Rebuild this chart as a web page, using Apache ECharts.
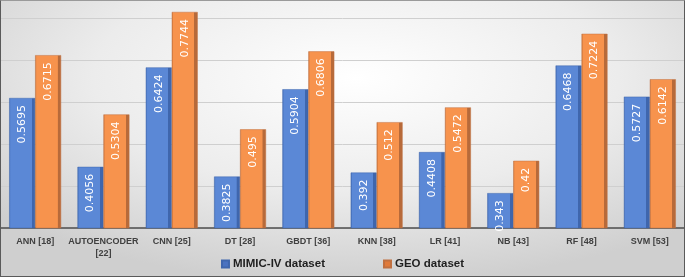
<!DOCTYPE html>
<html>
<head>
<meta charset="utf-8">
<script src="https://cdn.jsdelivr.net/npm/echarts@6/dist/echarts.min.js"></script>
<style>
  html, body { margin: 0; padding: 0; }
  #frame {
    width: 685px; height: 277px; box-sizing: border-box; overflow: hidden;
    border: 1px solid #5a5a5a; border-top-color: #9a9a9a;
    background: radial-gradient(ellipse 70% 75% at 52% 28%, #ffffff 0%, #ececec 55%, #cfcfcf 100%);
  }
  /* chart is taller and pulled up so the 0.86 line sits off screen */
  #main { width: 683px; height: 300px; margin-top: -25px; }
</style>
</head>
<body>
<div id="frame"><div id="main"></div></div>
<script>
var categories = ['ANN [18]', 'AUTOENCODER\n[22]', 'CNN [25]', 'DT [28]', 'GBDT [36]',
  'KNN [38]', 'LR [41]', 'NB [43]', 'RF [48]', 'SVM [53]'];
var mimicValues = [0.5695, 0.4056, 0.6424, 0.3825, 0.5904, 0.392, 0.4408, 0.343, 0.6468, 0.5727];
var geoValues = [0.6715, 0.5304, 0.7744, 0.495, 0.6806, 0.512, 0.5472, 0.42, 0.7224, 0.6142];

var chart = echarts.init(document.getElementById('main'));

function barFill(edge, face, side) {
  return new echarts.graphic.LinearGradient(0, 0, 1, 0, [
    { offset: 0, color: edge },
    { offset: 0.06, color: face },
    { offset: 0.86, color: face },
    { offset: 0.87, color: side },
    { offset: 1, color: side }
  ]);
}

var valueLabel = {
  show: true,
  position: 'insideTop',
  rotate: 90,
  align: 'right',
  verticalAlign: 'middle',
  distance: 5,
  offset: [-2, 0],
  color: '#ffffff',
  fontSize: 11,
  fontFamily: 'DejaVu Sans',
  formatter: function (p) { return p.value; }
};

var option = {
  backgroundColor: 'transparent',
  animation: false,
  textStyle: { fontFamily: 'Liberation Sans' },
  grid: { left: 0, right: 0, top: 0, bottom: 48 },
  legend: {
    bottom: 1,
    left: 'center',
    itemGap: 58,
    itemWidth: 7,
    itemHeight: 7,
    icon: 'rect',
    textStyle: { fontSize: 11.5, fontWeight: 'bold', color: '#1f1f1f', padding: [0, 0, 0, -1] },
    data: [
      { name: 'MIMIC-IV dataset', itemStyle: { color: '#4a72c0' } },
      { name: 'GEO dataset', itemStyle: { color: '#e07a3a' } }
    ]
  },
  xAxis: {
    type: 'category',
    data: categories,
    axisLine: { lineStyle: { color: '#4d4d4d', width: 1.5 } },
    axisTick: { show: false },
    axisLabel: {
      color: '#404040', fontSize: 9, fontWeight: 'bold', margin: 8,
      interval: 0, lineHeight: 12
    }
  },
  yAxis: {
    type: 'value',
    min: 0.26,
    max: 0.86,
    interval: 0.1,
    axisLabel: { show: false },
    axisLine: { show: false },
    axisTick: { show: false },
    splitLine: { lineStyle: { color: '#cfcfcf', width: 1 } }
  },
  series: [
    {
      name: 'MIMIC-IV dataset',
      type: 'bar',
      data: mimicValues,
      barGap: '0%',
      barCategoryGap: '24%',
      itemStyle: {
        color: barFill('#3f68b3', '#5b88d6', '#3f66ad'),
        borderColor: '#3f66ad',
        borderWidth: 0.5
      },
      label: valueLabel
    },
    {
      name: 'GEO dataset',
      type: 'bar',
      data: geoValues,
      itemStyle: {
        color: barFill('#c06d36', '#f7934d', '#b76a3a'),
        borderColor: '#c07040',
        borderWidth: 0.5
      },
      label: valueLabel
    }
  ]
};

chart.setOption(option);
</script>
</body>
</html>
